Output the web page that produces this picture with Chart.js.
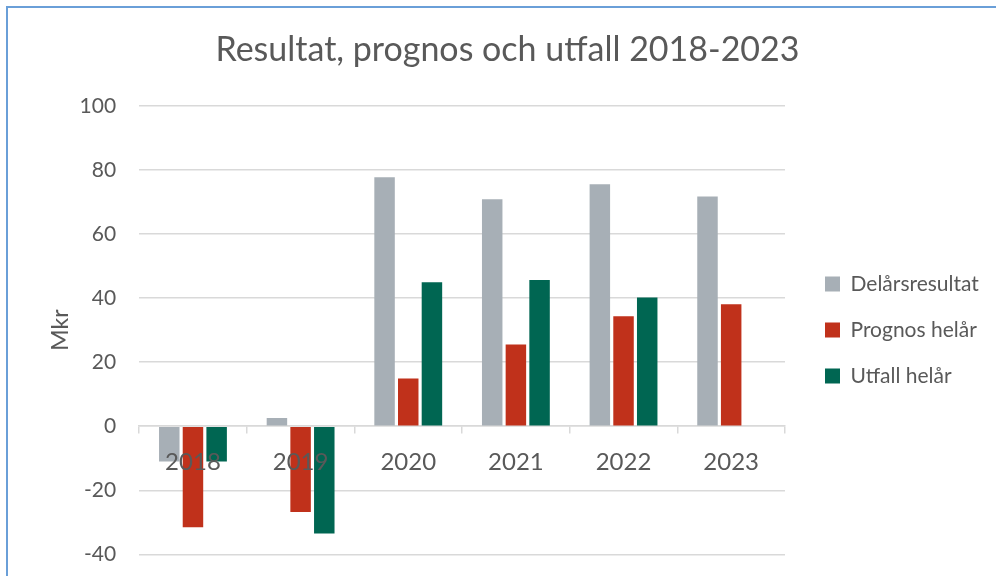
<!DOCTYPE html>
<html>
<head>
<meta charset="utf-8">
<script src="https://cdn.jsdelivr.net/npm/chart.js@4"></script>
<style>
  html, body { margin: 0; padding: 0; background: #fff; overflow: hidden; }
  #ram { position: absolute; left: 6px; top: 6px; width: 1200px; height: 800px;
         border-left: 2px solid #6A9FD8; border-top: 2px solid #6A9FD8; }
  #wrap { position: absolute; left: 0; top: 0; width: 988px; height: 582px; }
</style>
</head>
<body>
<div id="ram"><div id="wrap"><canvas id="chart"></canvas></div></div>
<script>
// Resultat, prognos och utfall (Mkr)
const years = ['2018', '2019', '2020', '2021', '2022', '2023'];
const delarsresultat = [-11, 2.6, 77.7, 70.8, 75.5, 71.7];
const prognosHelar = [-31.5, -26.8, 14.9, 25.5, 34.3, 38.1];
const utfallHelar = [-11, -33.5, 44.9, 45.6, 40.2, null];
const yTicks = [-40, -20, 0, 20, 40, 60, 80, 100];

const textColor = '#595959';
const gridColor = '#d9d9d9';
const fontFam = 'Lato, "Open Sans", sans-serif';

// flyttar rubrik och förklaring efter layouten
const flytta = {
    id: 'flytta',
    afterLayout(chart) {
        const t = chart.titleBlock;
        if (t) { t.left += 12; t.right += 12; }
        const lg = chart.legend;
        if (lg) {
            const w = lg.width;
            lg.left = 792;
            lg.right = 792 + w;
        }
    }
};

const ctx = document.getElementById('chart').getContext('2d');
new Chart(ctx, {
    type: 'bar',
    data: {
        labels: years,
        datasets: [
            { label: 'Delårsresultat', data: delarsresultat, backgroundColor: '#A7AFB6' },
            { label: 'Prognos helår', data: prognosHelar, backgroundColor: '#C0311B' },
            { label: 'Utfall helår', data: utfallHelar, backgroundColor: '#006652' }
        ]
    },
    plugins: [flytta],
    options: {
        responsive: true,
        maintainAspectRatio: false,
        animation: false,
        layout: { padding: { left: 18, right: 31, top: 0, bottom: 1 } },
        datasets: { bar: { categoryPercentage: 0.66, barPercentage: 0.865 } },
        plugins: {
            title: {
                display: true,
                text: 'Resultat, prognos och utfall 2018-2023',
                color: textColor,
                font: { family: fontFam, size: 34, weight: 'normal' },
                padding: { top: 22, bottom: 35 }
            },
            legend: {
                position: 'right',
                fullSize: false,
                maxWidth: 180,
                labels: {
                    color: textColor,
                    font: { family: fontFam, size: 21 },
                    boxWidth: 15,
                    boxHeight: 15,
                    padding: 25
                }
            },
            tooltip: { enabled: false }
        },
        scales: {
            x: {
                position: { y: 0 },
                grid: { drawOnChartArea: false, color: gridColor, lineWidth: 1.5, tickLength: 7 },
                border: { color: gridColor, width: 1.5 },
                ticks: { color: textColor, font: { family: fontFam, size: 24 }, padding: 15, z: 1 }
            },
            y: {
                min: -40,
                max: 100,
                afterBuildTicks: axis => { axis.ticks = yTicks.map(v => ({ value: v })); },
                grid: { color: gridColor, lineWidth: 1.5, drawTicks: false },
                border: { display: false },
                ticks: { color: textColor, font: { family: fontFam, size: 21 }, padding: 23 },
                title: {
                    display: true,
                    text: 'Mkr',
                    color: textColor,
                    font: { family: fontFam, size: 23 },
                    padding: { top: 21, bottom: -18 }
                }
            }
        }
    }
});
</script>
</body>
</html>
